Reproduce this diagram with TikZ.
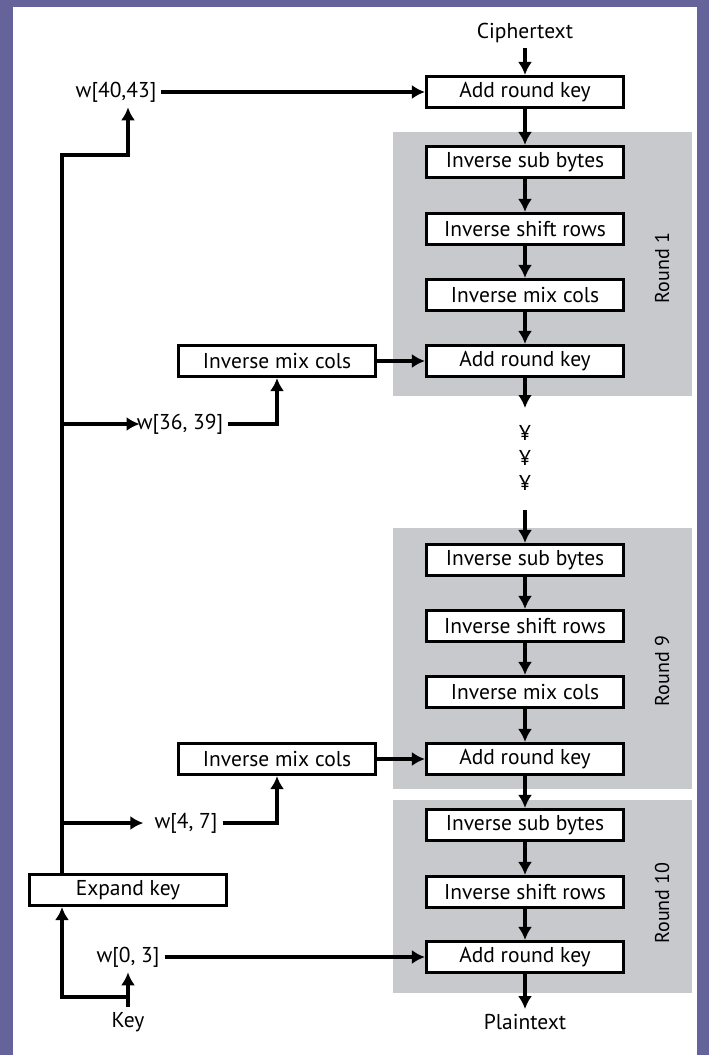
\documentclass[tikz,border=0pt]{standalone}
\usepackage{fontspec}
\newfontfamily\lblfont{PT Sans}
\usetikzlibrary{arrows.meta}
\definecolor{framecol}{RGB}{101,99,154}
\definecolor{roundgray}{RGB}{200,201,204}
\begin{document}
\begin{tikzpicture}[x=1pt,y=-1pt,
 box/.style={draw, line width=3.1pt, fill=white, minimum width=197pt, minimum height=31pt, inner sep=0pt, font=\lblfont\fontsize{21.5}{24}\selectfont},
 lbl/.style={inner sep=5pt, font=\lblfont\fontsize{21.5}{24}\selectfont},
 conn/.style={line width=3.1pt, -{Latex[length=13pt,width=14pt]}},
 roundlbl/.style={rotate=90, font=\lblfont\fontsize{20}{22}\selectfont}
]
\fill[framecol] (0,0) rectangle (709,1055);
\fill[white] (13,7) rectangle (697,1055);
\useasboundingbox (0,0) rectangle (709,1055);
% round backgrounds
\fill[roundgray] (393,132) rectangle (692,396);
\fill[roundgray] (393,528) rectangle (692,789);
\fill[roundgray] (393,800) rectangle (692,993);
% top
\node[lbl] (ct) at (525,33) {Ciphertext};
\node[box] (ark0) at (525,92) {Add round key};
\node[lbl] (w40) at (116,92) {w[40,43]};
% round 1
\node[box] (isb1) at (525,162) {Inverse sub bytes};
\node[box] (isr1) at (525,229) {Inverse shift rows};
\node[box] (imc1) at (525,295) {Inverse mix cols};
\node[box] (ark1) at (525,361) {Add round key};
\node[box] (kimc1) at (277,361) {Inverse mix cols};
\node[lbl] (w36) at (180,424) {w[36, 39]};
\node[roundlbl] (r1) at (662,268) {Round 1};
% dots
\coordinate (d0) at (525,408);
\node[lbl,inner sep=0pt] (d1) at (525,433) {¥};
\node[lbl,inner sep=0pt] (d2) at (525,458) {¥};
\node[lbl,inner sep=0pt] (d3) at (525,483) {¥};
\coordinate (d4) at (525,510);
% round 9
\node[box] (isb9) at (525,560) {Inverse sub bytes};
\node[box] (isr9) at (525,626) {Inverse shift rows};
\node[box] (imc9) at (525,692) {Inverse mix cols};
\node[box] (ark9) at (525,759) {Add round key};
\node[box] (kimc9) at (277,759) {Inverse mix cols};
\node[lbl] (w4) at (186,823) {w[4, 7]};
\node[roundlbl] (r9) at (662,671) {Round 9};
% round 10
\node[box] (isb10) at (525,825) {Inverse sub bytes};
\node[box] (isr10) at (525,892) {Inverse shift rows};
\node[box] (ark10) at (525,957) {Add round key};
\node[roundlbl] (r10) at (662,903) {Round 10};
% key side
\node[box] (ek) at (128,890) {Expand key};
\node[lbl] (w0) at (128,957) {w[0, 3]};
\node[lbl] (key) at (128,1022) {Key};
\node[lbl] (pt) at (525,1022) {Plaintext};
\coordinate (ktop) at (62,155);
\coordinate (b1) at (62,424);
\coordinate (b2) at (62,823);
\coordinate (kc) at (128,997);
\coordinate (kl) at (62,997);
% data path
\draw[conn] (ct) -- (ark0);
\draw[conn] (ark0) -- (isb1);
\draw[conn] (isb1) -- (isr1);
\draw[conn] (isr1) -- (imc1);
\draw[conn] (imc1) -- (ark1);
\draw[conn] (ark1) -- (d0);
\draw[conn] (d4) -- (isb9);
\draw[conn] (isb9) -- (isr9);
\draw[conn] (isr9) -- (imc9);
\draw[conn] (imc9) -- (ark9);
\draw[conn] (ark9) -- (isb10);
\draw[conn] (isb10) -- (isr10);
\draw[conn] (isr10) -- (ark10);
\draw[conn] (ark10) -- (pt);
% key path
\draw[conn] (w40) -- (ark0);
\draw[conn] (ek.north -| ktop) -- (ktop) -| ([xshift=12pt]w40.south);
\draw[conn] (b1) -- ([xshift=8pt]w36.west);
\draw[conn] (w36.east) -| (kimc1.south);
\draw[conn] (kimc1) -- (ark1);
\draw[conn] (b2) -- ([xshift=-6pt]w4.west);
\draw[conn] (w4.east) -| (kimc9.south);
\draw[conn] (kimc9) -- (ark9);
\draw[conn] (key) -- (w0);
\draw[conn] (kc) -- (kl) -- (kl |- ek.south);
\draw[conn] (w0) -- (ark10);
\end{tikzpicture}
\end{document}
